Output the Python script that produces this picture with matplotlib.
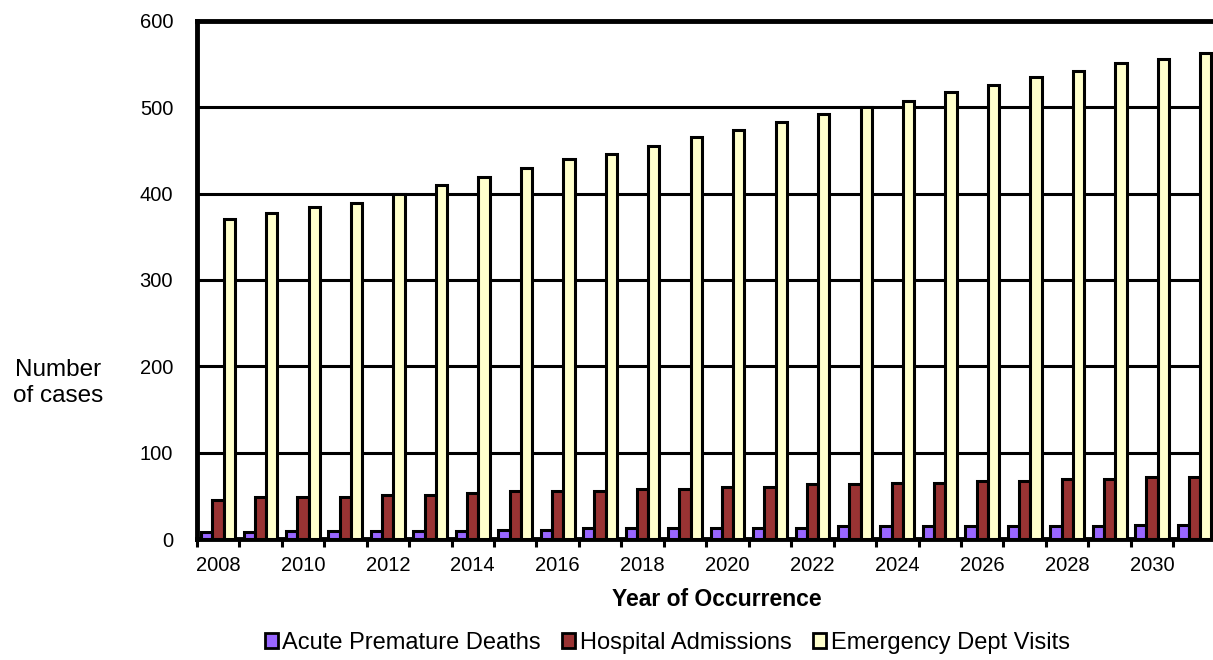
import matplotlib
matplotlib.use("Agg")
import matplotlib.pyplot as plt
import numpy as np
from matplotlib.patches import Patch

plt.rcParams['font.family'] = ['Liberation Sans', 'DejaVu Sans']

years = list(range(2008, 2032))
tick_labels = [str(y) if y % 2 == 0 else "" for y in years]

# values
premature_deaths = [8, 8, 10, 10, 10, 10, 10, 11, 11, 13, 13, 13, 13, 13, 13,
                    15, 15, 15, 15, 15, 15, 15, 17, 17]
hospital_admissions = [46, 48.5, 48.5, 48.5, 51, 51, 53.5, 56, 56, 56, 58.5, 58.5,
                       61, 61, 63.5, 63.5, 65.5, 65.5, 67, 67, 69.5, 69.5, 72, 72]
ed_visits = [370, 378, 384, 389, 400, 410, 419, 430, 440, 446, 455, 465,
             474, 483, 492, 500, 507, 517, 526, 535, 542, 551, 556, 563]

series_names = ["Acute Premature Deaths", "Hospital Admissions", "Emergency Dept Visits"]
colors = ["#9966FF", "#993333", "#FFFFCC"]

fig = plt.figure(figsize=(12.13, 6.6), dpi=100)
ax = fig.add_axes([0.1622, 0.1829, 0.8401, 0.7858])

x = np.arange(len(years))
w = 0.265
for k, vals in enumerate([premature_deaths, hospital_admissions, ed_visits]):
    ax.bar(x + (k - 1) * w, vals, width=w, color=colors[k], edgecolor="black",
           linewidth=2.2, zorder=3)

ax.set_xlim(-0.5, len(years) - 0.5)
ax.set_ylim(0, 600)
ax.set_yticks(np.arange(0, 601, 100))
ax.yaxis.grid(True, color="black", linewidth=2.2, zorder=1)
ax.set_axisbelow(True)

ax.set_xticks(x)
ax.set_xticklabels(tick_labels, fontsize=14.5)
ax.set_xticks(np.arange(-0.5, len(years), 1), minor=True)
ax.tick_params(axis="x", which="major", length=0, pad=12)
ax.tick_params(axis="x", which="minor", length=6, width=2.2, direction="out")
ax.tick_params(axis="y", length=0, pad=17, labelsize=14.5)

for s in ax.spines.values():
    s.set_linewidth(3.5)

fig.text(0.591, 0.0917, "Year of Occurrence", fontsize=16.5, fontweight="bold",
         ha="center", va="center")
fig.text(0.048, 0.42, "Number\nof cases", fontsize=17.5, ha="center", va="center",
         linespacing=1.2)

handles = [Patch(facecolor=c, edgecolor="black", linewidth=2) for c in colors]
fig.legend(handles, series_names, loc="center", bbox_to_anchor=(0.55, 0.026),
           ncol=3, frameon=False, fontsize=17, handlelength=0.55, handleheight=0.55,
           handletextpad=0.2, columnspacing=0.9, borderaxespad=0, borderpad=0)

fig.savefig("out.png", dpi=100)
